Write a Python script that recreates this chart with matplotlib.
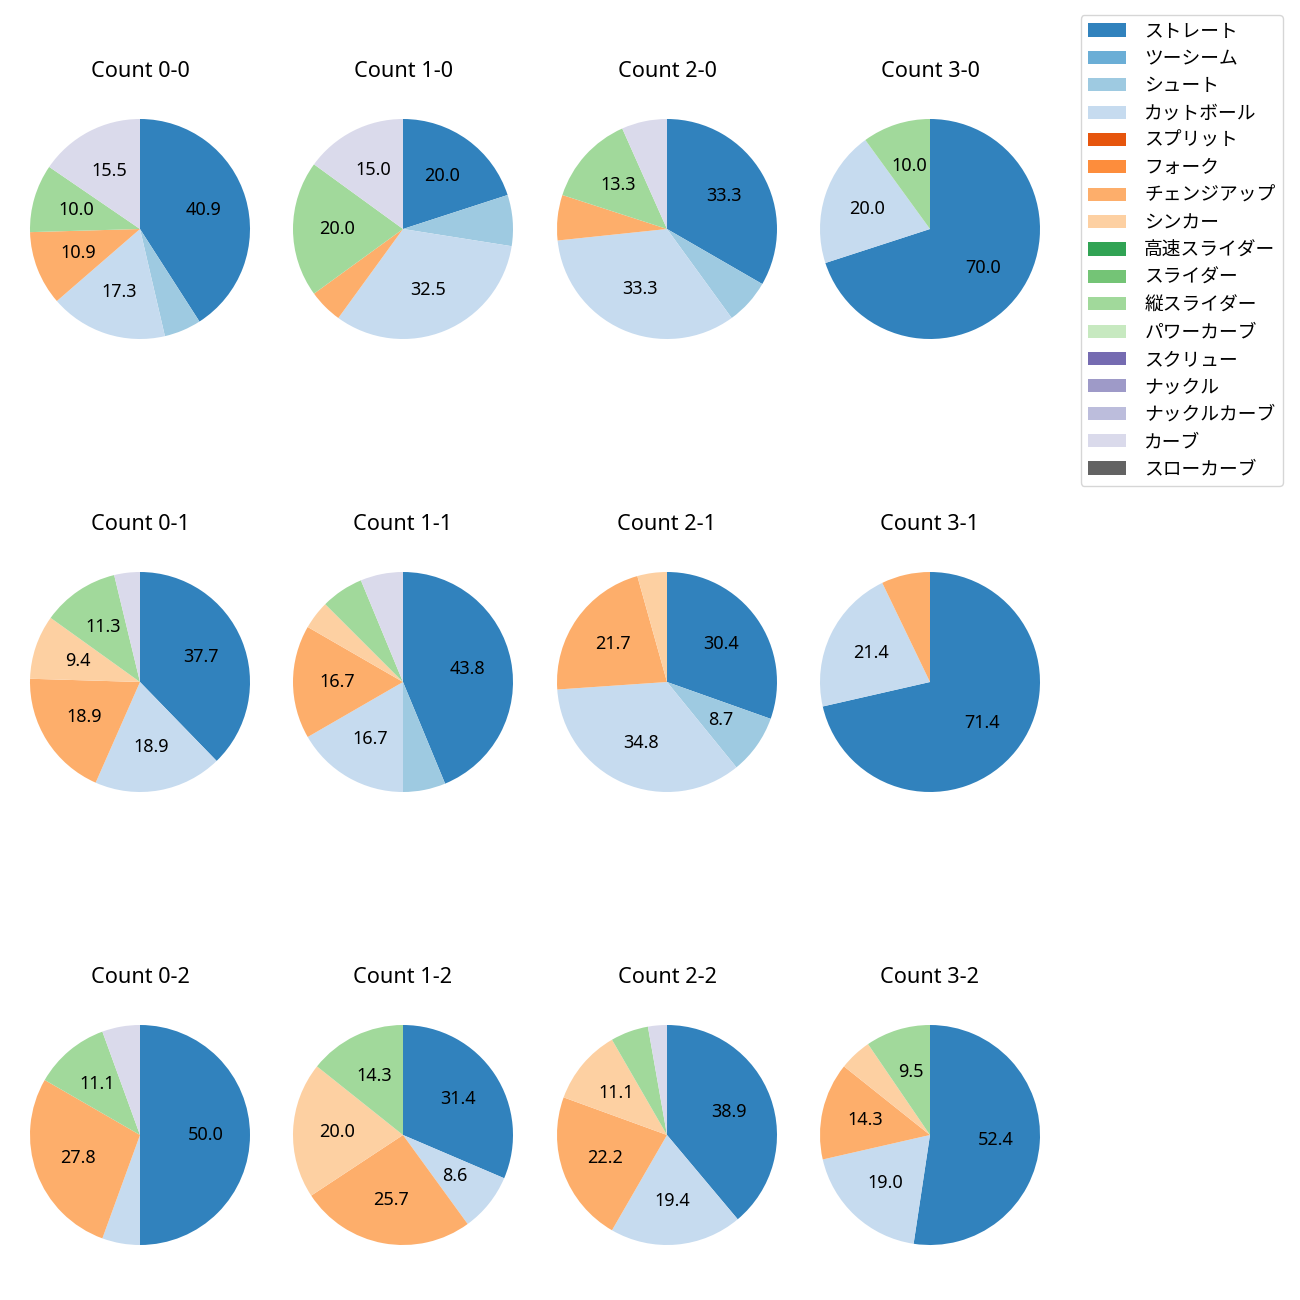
import matplotlib
matplotlib.use("Agg")
import matplotlib.pyplot as plt
from matplotlib.patches import Patch

plt.rcParams['font.family'] = ['Noto Sans', 'Noto Sans CJK JP', 'DejaVu Sans']

# 球種と色 (tab20c)
pitch_types = ["ストレート", "ツーシーム", "シュート", "カットボール", "スプリット", "フォーク",
               "チェンジアップ", "シンカー", "高速スライダー", "スライダー", "縦スライダー",
               "パワーカーブ", "スクリュー", "ナックル", "ナックルカーブ", "カーブ", "スローカーブ"]
cmap = plt.get_cmap("tab20c")
pitch_colors = [cmap(i) for i in range(len(pitch_types))]

# カウントごとの球数 (pitch_types と同じ順)
counts = ["0-0", "1-0", "2-0", "3-0",
          "0-1", "1-1", "2-1", "3-1",
          "0-2", "1-2", "2-2", "3-2"]
pitch_counts = {
    "0-0": [45, 0, 6, 19, 0, 0, 12, 0, 0, 0, 11, 0, 0, 0, 0, 17, 0],
    "1-0": [8, 0, 3, 13, 0, 0, 2, 0, 0, 0, 8, 0, 0, 0, 0, 6, 0],
    "2-0": [5, 0, 1, 5, 0, 0, 1, 0, 0, 0, 2, 0, 0, 0, 0, 1, 0],
    "3-0": [7, 0, 0, 2, 0, 0, 0, 0, 0, 0, 1, 0, 0, 0, 0, 0, 0],
    "0-1": [20, 0, 0, 10, 0, 0, 10, 5, 0, 0, 6, 0, 0, 0, 0, 2, 0],
    "1-1": [21, 0, 3, 8, 0, 0, 8, 2, 0, 0, 3, 0, 0, 0, 0, 3, 0],
    "2-1": [7, 0, 2, 8, 0, 0, 5, 1, 0, 0, 0, 0, 0, 0, 0, 0, 0],
    "3-1": [10, 0, 0, 3, 0, 0, 1, 0, 0, 0, 0, 0, 0, 0, 0, 0, 0],
    "0-2": [9, 0, 0, 1, 0, 0, 5, 0, 0, 0, 2, 0, 0, 0, 0, 1, 0],
    "1-2": [11, 0, 0, 3, 0, 0, 9, 7, 0, 0, 5, 0, 0, 0, 0, 0, 0],
    "2-2": [14, 0, 0, 7, 0, 0, 8, 4, 0, 0, 2, 0, 0, 0, 0, 1, 0],
    "3-2": [11, 0, 0, 4, 0, 0, 3, 1, 0, 0, 2, 0, 0, 0, 0, 0, 0],
}

W, H = 1300, 1300
fig = plt.figure(figsize=(13, 13), dpi=100)

col_x = [140, 403, 667, 930]
row_y = [229, 682, 1135]
R = 110          # 円の半径 (px)
aw, ah = 260, 282  # 軸の大きさ (px)


def autopct(p):
    return f"{p:.1f}" if p >= 8 else ""


for i, c in enumerate(counts):
    r, k = divmod(i, 4)
    cx, cy = col_x[k], row_y[r]
    ax = fig.add_axes([(cx - aw / 2) / W, 1 - (cy + ah / 2) / H, aw / W, ah / H])
    vals = pitch_counts[c]
    idx = [j for j, v in enumerate(vals) if v > 0]
    ax.pie([vals[j] for j in idx], colors=[pitch_colors[j] for j in idx],
           startangle=90, counterclock=False, autopct=autopct,
           textprops={'fontsize': 13})
    ax.set_xlim(-aw / (2 * R), aw / (2 * R))
    ax.set_ylim(-ah / (2 * R), ah / (2 * R))
    ax.set_title(f"Count {c}", fontsize=15.6, pad=7.8)

handles = [Patch(facecolor=col, label=name) for name, col in zip(pitch_types, pitch_colors)]
fig.legend(handles=handles, loc='upper right', bbox_to_anchor=(1283 / W, 1 - 15 / H),
           borderaxespad=0, fontsize=13.5, handletextpad=1.0)

fig.savefig("out.png", dpi=100)
